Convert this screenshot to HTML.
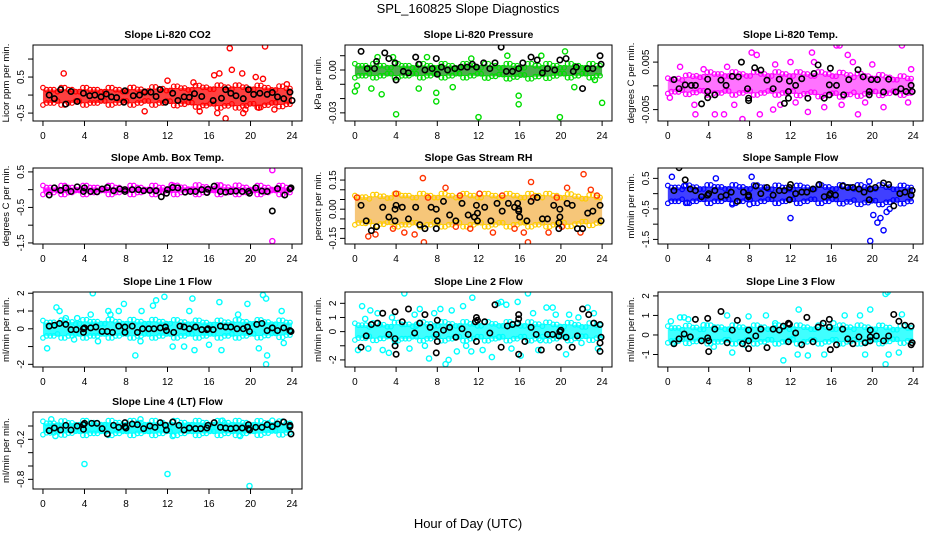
<!DOCTYPE html>
<html><head><meta charset="utf-8"><style>
body{margin:0;background:#fff;}
svg{display:block;font-family:"Liberation Sans",sans-serif;}
</style></head><body>
<svg id="chart" width="936" height="540" viewBox="0 0 936 540" xmlns="http://www.w3.org/2000/svg">
<text x="468" y="13" text-anchor="middle" font-size="13">SPL_160825  Slope Diagnostics</text>
<text x="468" y="528" text-anchor="middle" font-size="13">Hour of Day (UTC)</text>
</svg>
<script>
const NS="http://www.w3.org/2000/svg";
const svg=document.getElementById('chart');
const xTicks=[0,4,8,12,16,20,24];
const bandHours=[0,4,8,12,16,20,24];

// Panel 1: Li-820 CO2
const co2Ticks=[-0.5,0,0.5,1];
const co2Labels=["-0.5","","0.5",""];
const co2BandLo=[-0.22,-0.22,-0.22,-0.22,-0.3,-0.3,-0.25];
const co2BandHi=[0.15,0.15,0.15,0.18,0.22,0.22,0.18];
const co2Out=[[2,0.6],[9.8,-0.45],[16.5,0.55],[16.8,-0.5],[17.6,-0.65],[18,1.3],[18.2,0.7],[19.2,0.6],[19.3,-0.5],[15.1,-0.45],[20.5,0.5],[21.4,1.35],[22.3,-0.4],[21.2,0.45],[23.5,0.3],[14.5,0.35],[12,0.4],[17,0.6],[19.5,-0.4],[20.8,-0.35]];
const co2Black=[[0.6,0],[1.1,-0.1],[1.7,0.15],[2.2,-0.25],[2.7,0.1],[3.3,-0.18],[3.9,0.05],[4.5,-0.02],[5,0],[5.6,-0.05],[6.1,0.03],[6.6,-0.05],[7.1,-0.07],[7.8,-0.2],[7.9,0.12],[8.7,-0.02],[9.3,0],[9.8,0.08],[10.4,0.08],[10.9,-0.04],[11.3,0.15],[11.8,-0.2],[12.5,0.05],[13,-0.15],[13.6,-0.05],[14.1,-0.06],[14.6,0.04],[15.3,-0.04],[16.4,-0.15],[17.2,-0.09],[17.6,0.15],[18.1,0.05],[18.6,-0.02],[19.3,-0.1],[19.8,0.15],[20.3,0.02],[20.9,0.05],[21.6,0.02],[22.1,0.07],[22.6,-0.05],[23.2,-0.1],[23.8,0.08],[24,-0.15]];

// Panel 2: Li-820 Pressure
const presTicks=[-0.03,-0.02,-0.01,0,0.01];
const presLabels=["-0.03","","","0.00",""];
const presBandLo=[-0.004,-0.004,-0.004,-0.004,-0.005,-0.004,-0.004];
const presBandHi=[0.003,0.003,0.003,0.003,0.003,0.003,0.003];
const presOut=[[0,-0.015],[0.2,-0.011],[1.6,-0.013],[2.6,-0.017],[4,-0.031],[6.2,-0.013],[7.9,-0.016],[7.9,-0.022],[9.5,-0.012],[12,-0.033],[15.9,-0.018],[15.9,-0.024],[19.9,-0.033],[24,-0.023],[14.8,0.01],[18.1,0.01],[20.4,0.013],[7,0.009],[11.3,0.008],[21.3,-0.012],[23.3,-0.007],[2.2,0.009],[3.7,0.009]];
const presBlack=[[0.6,0.013],[1.2,0.001],[1.9,0.001],[2.1,0.006],[2.9,0.012],[3.3,0.008],[3.9,0.005],[4,-0.007],[4.7,-0.001],[5.2,-0.002],[5.9,0.009],[6.2,0.004],[6.8,0],[7.5,0.001],[7.9,0.008],[8,-0.003],[8.4,0.002],[9,0],[9.7,0.001],[10.3,0.002],[10.9,0.002],[11.4,0.004],[11.8,0.002],[12.5,0.005],[13.1,0.001],[13.6,0.005],[14.2,0.016],[14.7,-0.001],[15.3,-0.001],[15.9,0.001],[16.3,0.005],[17.1,0.009],[17.7,0.007],[18.2,-0.002],[18.7,0.001],[19.4,0],[19.9,0.007],[20.5,0.008],[21.2,-0.001],[21.5,0.002],[22.1,-0.013],[22.6,0.001],[23.1,0.001],[23.8,0.01],[23.9,0.004]];

// Panel 3: Li-820 Temp
const ltTicks=[-0.005,0,0.005];
const ltLabels=["-0.005","","0.005"];
const ltBandLo=[-0.0012,-0.0015,-0.0015,-0.0015,-0.002,-0.0016,-0.0015];
const ltBandHi=[0.0012,0.0025,0.0025,0.0025,0.0025,0.002,0.0015];
const ltOut=[[0.2,-0.0025],[2.6,-0.004],[2.7,-0.006],[4.6,-0.006],[5.5,-0.006],[7.3,-0.007],[8.2,0.007],[8.7,0.0065],[9,-0.006],[10.3,-0.005],[12,0.005],[13.7,-0.0055],[14.1,0.007],[14.3,0.005],[15.3,-0.0045],[16.5,0.0085],[16.8,0.0085],[17.6,0.0065],[18.1,0.005],[18.6,-0.006],[19.3,-0.0035],[21.1,-0.0045],[22.9,0.0085],[23.5,-0.0035],[23.8,0.0035],[5.8,0.004],[11,-0.004],[6.5,-0.004],[3.5,0.0035],[1.2,0.004],[12.5,-0.0035],[17,-0.004],[20,0.0045],[10.5,0.0045]];
const ltBlack=[[0.6,0.0013],[1.1,-0.0006],[1.7,0.0002],[2.3,0.0001],[2.7,0.0001],[3.3,-0.0038],[3.9,-0.0012],[3.9,0.0014],[3.9,-0.0025],[4.6,-0.0019],[5.2,0.0012],[5.7,0.0001],[6.3,0.002],[6.9,0.0019],[7.2,0.005],[7.8,-0.0006],[7.9,-0.0031],[7.9,-0.0026],[8.5,0.0038],[9.1,0.0033],[9.7,0.0012],[10.3,-0.0006],[10.9,0.0014],[11.4,-0.0037],[11.8,-0.0012],[11.8,-0.0026],[11.9,0.001],[12.5,0.0001],[13.1,0.0015],[13.7,-0.0026],[14.3,0.0026],[14.7,0.0044],[15.3,-0.0026],[15.9,0.0037],[15.8,0.0002],[15.8,-0.0019],[16.5,0.0001],[17.2,-0.0019],[17.7,0.0013],[18.6,0.0034],[19.1,0.0019],[19.7,-0.0012],[19.7,-0.0019],[19.9,0.0013],[20.5,0.0013],[21.1,-0.0013],[21.6,0.0014],[22.3,-0.0013],[22.8,-0.0006],[23.3,-0.0012],[23.8,0.0001],[23.9,-0.0012]];

// Panel 4: Amb. Box Temp
const abTicks=[-1.5,-1,-0.5,0,0.5];
const abLabels=["-1.5","","-0.5","","0.5"];
const abBandLo=[-0.08,-0.08,-0.08,-0.08,-0.08,-0.08,-0.08];
const abBandHi=[0.06,0.06,0.06,0.06,0.08,0.06,0.06];
const abOut=[[22.1,0.55],[22.1,-1.45],[17.1,0.12],[12.4,0.13]];
const abBlack=[[0.6,-0.15],[1.1,0.05],[1.7,-0.02],[2.2,0.05],[2.7,-0.05],[3.3,0.08],[3.9,-0.05],[4,0.05],[4.6,-0.05],[5.2,-0.06],[5.7,0.02],[6.2,0.06],[6.8,-0.03],[7.4,0.02],[7.9,-0.05],[7.9,0],[8.6,0],[9.2,0],[9.7,-0.03],[10.3,-0.02],[10.9,-0.03],[11.4,-0.2],[11.9,-0.1],[12,0],[12.5,0.06],[13,0.05],[13.7,-0.07],[14.2,-0.05],[14.7,-0.05],[15.3,0],[15.8,-0.08],[15.9,0.01],[16.5,0.1],[17.1,-0.05],[17.6,-0.07],[18.1,-0.05],[18.6,-0.04],[19.2,-0.05],[19.8,-0.05],[19.9,-0.1],[20.5,0.05],[21.1,-0.04],[21.6,-0.05],[22.1,-0.6],[22.6,0.03],[23.3,-0.15],[23.8,0.02],[23.9,0.05]];

// Panel 5: Gas Stream RH
const rhTicks=[-0.15,-0.1,-0.05,0,0.05,0.1,0.15];
const rhLabels=["-0.15","","","0.00","","","0.15"];
const rhBandLo=[-0.07,-0.08,-0.08,-0.08,-0.08,-0.08,-0.07];
const rhBandHi=[0.06,0.07,0.07,0.07,0.07,0.07,0.06];
const rhOut=[[0.2,0.06],[1.3,-0.14],[2,-0.13],[4,0.08],[4.8,-0.12],[5.8,-0.13],[6.6,0.16],[6.7,-0.17],[7.1,0.06],[8.8,0.11],[9.8,-0.09],[13.4,-0.12],[16.4,-0.12],[16.8,-0.17],[17.1,0.14],[17.3,0.06],[19.6,0.06],[20.1,-0.09],[20.6,0.11],[22.2,0.18],[22.9,0.1],[23.5,0.07],[10.2,0.07],[14.3,0.07],[3.7,-0.1],[11.2,-0.1],[12.1,0.08],[18.8,-0.12],[21.9,-0.12],[15.5,-0.1]];
const rhBlack=[[0.6,0.02],[1.1,-0.06],[1.6,-0.11],[2.1,-0.09],[2.7,0.01],[3.3,-0.04],[3.9,0],[3.9,-0.06],[4,0.02],[4.6,0.01],[5.2,-0.05],[5.9,0.01],[6.3,-0.08],[6.8,-0.1],[7.4,0.01],[7.9,-0.1],[7.9,0],[8,-0.06],[8.6,0.04],[9.2,-0.03],[9.8,-0.06],[10.4,0.03],[11,-0.03],[11.6,-0.04],[11.8,0.02],[11.9,-0.02],[11.9,-0.06],[12.6,0.01],[13.2,-0.06],[13.8,0.03],[14.3,-0.01],[14.9,0.03],[15.5,0.01],[15.8,0.03],[15.9,0],[15.9,-0.01],[16,-0.04],[16.7,-0.06],[17.1,0.04],[17.7,0.06],[18.2,-0.05],[18.7,-0.05],[19.3,0.02],[19.8,-0.07],[19.8,-0.1],[19.9,-0.04],[19.9,0],[20.6,0.03],[21.1,0.02],[21.6,-0.1],[22.1,-0.1],[22.6,-0.02],[23.1,-0.01],[23.8,0.02],[23.9,-0.06],[23.9,-0.2]];

// Panel 6: Sample Flow
const sfTicks=[-1.5,-1,-0.5,0,0.5];
const sfLabels=["-1.5","","-0.5","","0.5"];
const sfBandLo=[-0.25,-0.25,-0.25,-0.25,-0.25,-0.3,-0.25];
const sfBandHi=[0.2,0.22,0.22,0.2,0.22,0.22,0.2];
const sfOut=[[20.1,-0.7],[20.5,-0.95],[20.8,-0.8],[21.1,-1.2],[21.4,-0.6],[21.7,-0.5],[19.8,-1.55],[12,-0.8],[0.4,0.55],[4.7,0.5],[8.2,0.55],[19.7,0.4],[1.6,0.25],[1.9,-0.3],[6.3,-0.35],[8,-0.35]];
const sfBlack=[[0.6,0.1],[1.1,0.85],[1.7,0.45],[2.2,0.15],[2.7,0.1],[3.3,-0.1],[3.9,-0.05],[4,0],[4.6,0.1],[5.2,-0.1],[5.7,-0.05],[6.2,0.05],[6.8,-0.25],[7.4,0.05],[7.9,-0.05],[7.9,-0.1],[8.6,0.25],[9.1,0],[9.7,0.2],[10.3,-0.05],[10.9,0.1],[11.4,0.1],[11.9,0.2],[11.9,-0.2],[12,0.3],[12.5,0],[13.1,0.05],[13.6,0.05],[14.2,0.15],[14.8,0.3],[15.3,-0.1],[15.8,-0.05],[15.9,0],[16.4,-0.05],[17.1,0.25],[17.6,0.2],[18.1,0.2],[18.7,0.15],[19.2,0.05],[19.7,-0.2],[19.8,0.15],[20.3,0.2],[21.1,0.35],[21.6,0.3],[22.1,-0.4],[22.7,0],[23.2,0.05],[23.8,-0.05],[23.9,0.1]];

// Panel 7: Line 1 Flow
const l1Ticks=[-2,-1,0,1,2];
const l1Labels=["-2","","0","1","2"];
const l1BandLo=[-0.4,-0.4,-0.4,-0.4,-0.4,-0.4,-0.35];
const l1BandHi=[0.35,0.4,0.4,0.4,0.35,0.4,0.35];
const l1Out=[[0.4,-1.1],[1.3,1.2],[1.6,1],[3,-0.6],[3.3,0.6],[4.6,0.8],[4.8,2],[6.3,1],[6.5,0.8],[7.3,1],[7.8,1.4],[8.9,-1.5],[9.5,1],[10.6,1.3],[10.9,1.6],[11.7,1.8],[12.5,-1],[13.6,-1],[14.1,1],[14.4,1.7],[14.6,-1.2],[17,1.5],[17.2,-1.2],[19.7,1.4],[20.8,-1.1],[21.2,1.9],[21.5,1.7],[21.5,-2],[21.6,-1.5],[23,1],[23.2,-0.8],[9.4,-0.7],[5.3,-0.7],[16,-0.9],[2.2,0.6],[18.8,0.8]];
const l1Black=[[0.6,0.15],[1.1,0.2],[1.6,0.3],[2.2,0.25],[2.7,-0.05],[3.2,-0.05],[3.9,0],[3.9,-0.2],[4,0.05],[4.6,0.05],[5.1,0.1],[5.7,-0.15],[6.2,-0.15],[6.7,-0.2],[7.3,0.15],[7.9,0.1],[7.9,-0.2],[8.6,0.15],[9.1,-0.2],[9.6,0],[10.2,0],[10.7,0],[11.3,0.05],[11.8,0.1],[11.9,-0.1],[12.6,-0.2],[13.2,0.15],[13.6,0.1],[14.1,0],[14.7,0.1],[15.3,-0.05],[15.8,-0.05],[15.9,0],[16.4,-0.05],[17.1,0.15],[17.6,0.1],[18.1,0.1],[18.7,0],[19.3,0],[19.7,0.1],[19.9,-0.15],[20.6,0.25],[21.1,0.3],[21.6,-0.1],[22.1,0.05],[22.6,-0.1],[23.2,0.05],[23.8,-0.1],[23.9,-0.15]];

// Panel 8: Line 2 Flow
const l2Ticks=[-2,-1,0,1,2];
const l2Labels=["-2","","0","1","2"];
const l2BandLo=[-0.45,-0.5,-0.5,-0.5,-0.5,-0.5,-0.45];
const l2BandHi=[0.45,0.5,0.55,0.55,0.55,0.5,0.45];
const l2Out=[[0.3,-1.3],[0.7,1.8],[1.3,-1.2],[1.5,1.5],[2.2,1.3],[2.7,-1.3],[3.3,-1.5],[3.6,1],[4.8,2.7],[5.3,-1.2],[5.8,1.2],[6.3,1.6],[6.8,-1],[7.2,-1.9],[7.7,1.3],[8.3,1.6],[8.8,-2.3],[9.1,-2],[9.4,1.5],[9.9,-1.4],[10.5,1.8],[11.4,2.4],[11.3,-1.4],[12.4,-1.3],[13.3,-1.8],[13.9,2],[14.2,2.1],[14.7,1.9],[15.2,-1.2],[15.8,2.1],[16.1,-1.7],[16.8,2.7],[17.3,1.3],[17.8,-1.3],[18.6,1.7],[19.2,1.7],[20.5,-1.6],[20.8,1.2],[21.7,1],[22.6,1.7],[23.2,1.3],[23.6,-1.2],[3.9,-0.7],[10.8,-1],[18,-0.6],[22,-0.8],[6,0.5],[14,-0.4],[19.5,1.2],[1,0.9]];
const l2Black=[[0.6,-1.1],[1.1,-0.3],[1.6,0.5],[2.2,0.6],[2.7,1.3],[3.3,-0.2],[3.9,1.4],[3.9,-0.5],[3.9,-1],[4,-1.6],[4.6,0.7],[5.2,1.6],[5.8,-0.1],[6.3,0.6],[6.8,1.2],[7.3,0.3],[7.9,-0.2],[7.9,-1.5],[8,-0.7],[8,0.8],[8.6,0.1],[9.2,0.3],[9.8,-0.4],[10.4,0.2],[11,-0.2],[11.7,0.7],[11.8,1],[11.9,0.8],[11.8,-0.7],[12.6,0.7],[13.1,-0.1],[13.6,1.9],[14.2,-1.1],[14.8,0.4],[15.3,0.5],[15.8,0.6],[15.9,0.9],[15.9,1.2],[15.9,-1.6],[16.5,-0.7],[17.1,0.3],[17.6,-0.2],[18.1,-1.3],[18.7,-0.2],[19.2,-0.2],[19.8,-1.1],[19.8,-0.3],[19.9,0],[20,0.1],[20.5,-0.4],[21.1,-1.1],[21.6,-0.3],[22.1,1.6],[22.7,1.2],[23.2,0.6],[23.8,0.5],[23.9,-0.4],[23.8,-0.8],[23.8,-1.4]];

// Panel 9: Line 3 Flow
const l3Ticks=[-1,0,1,2];
const l3Labels=["-1","0","1","2"];
const l3BandLo=[-0.3,-0.35,-0.35,-0.35,-0.35,-0.35,-0.3];
const l3BandHi=[0.35,0.4,0.4,0.4,0.4,0.4,0.35];
const l3Out=[[0.3,0.7],[1.2,0.9],[1.6,0.9],[2,0.8],[3.5,0.5],[5.8,1],[6.3,-0.9],[7.6,-0.5],[7.9,0.95],[9.6,1],[11.3,-1.3],[12.2,-0.2],[12.7,-1],[12.8,1.3],[13.7,-1.05],[15.3,-1],[17.3,1],[18.8,1],[19.3,-1],[19.8,1.3],[21.3,2.1],[21.5,2.2],[21.3,-1.5],[21.6,-1],[22.6,-0.9],[22.9,1.05],[16.2,0.6],[10.5,0.6],[4.5,-0.6],[0.5,-0.4]];
const l3Black=[[0.6,-0.45],[1.1,-0.2],[1.6,0.05],[2.2,-0.1],[2.7,0.8],[3.3,-0.3],[3.9,0.85],[3.9,-0.15],[4,-0.3],[4,-0.85],[4.6,0.3],[5.2,1.2],[5.8,-0.4],[6.3,0.25],[6.8,0.75],[7.3,-0.45],[7.9,-0.7],[7.9,-0.3],[7.9,0.25],[8.6,-0.05],[9.1,0.3],[9.7,-0.65],[10.3,0.3],[10.9,0.25],[11.3,0.45],[11.8,0.6],[11.8,-0.35],[11.9,0.55],[12.5,0.1],[13.1,-0.5],[13.6,0.9],[14.2,-0.35],[14.7,0.4],[15.2,0.6],[15.8,0.4],[15.8,0.8],[15.9,-0.75],[16.5,-0.5],[17.1,0.3],[17.6,-0.2],[18.1,-0.45],[18.7,-0.1],[19.3,-0.4],[19.8,-0.3],[19.8,0.25],[19.8,-0.1],[20.4,-0.05],[21.1,-0.3],[21.6,-0.05],[22.1,1.05],[22.6,0.7],[23.2,0.5],[23.8,0.45],[23.8,-0.5],[23.9,-0.4]];

// Panel 10: Line 4 (LT) Flow
const l4Ticks=[-0.8,-0.6,-0.4,-0.2,0];
const l4Labels=["-0.8","","","-0.2",""];
const l4BandLo=[-0.1,-0.11,-0.11,-0.11,-0.11,-0.11,-0.1];
const l4BandHi=[0.04,0.05,0.05,0.05,0.05,0.05,0.04];
const l4Out=[[4,-0.57],[12,-0.72],[19.9,-0.9],[0.8,0.1],[9.4,0.1],[17.3,0.08],[22.1,0.08],[1.2,-0.15],[12.5,-0.15],[19,-0.15]];
const l4Black=[[0.6,-0.07],[1.1,-0.03],[1.7,-0.06],[2.2,0.01],[2.7,-0.06],[3.3,0],[3.9,-0.05],[3.9,0.02],[4,0.04],[4.7,0.04],[5.2,0.04],[5.7,-0.04],[6.2,-0.12],[6.8,0.01],[7.3,-0.02],[7.9,-0.01],[7.9,0.05],[8,-0.03],[8.6,0.03],[9.1,0.02],[9.7,-0.04],[10.3,0],[10.8,-0.02],[11.3,0.05],[11.8,0.01],[11.9,-0.06],[12.5,0.06],[13.1,0.01],[13.6,-0.06],[14.1,-0.03],[14.7,-0.04],[15.2,-0.04],[15.8,-0.03],[15.9,0.01],[16.5,0.05],[17.1,-0.02],[17.6,-0.03],[18.1,-0.04],[18.6,-0.03],[19.2,-0.03],[19.8,-0.04],[19.8,0.02],[19.9,-0.06],[20.5,-0.02],[21.1,-0.02],[21.6,0.02],[22.1,-0.01],[22.6,0.03],[23.2,0.06],[23.8,-0.01],[23.8,0.01],[23.9,-0.12]];

const cols=[[33,302],[345,612],[658,923]];
const rows=[[45,121],[168,244],[292,367],[412,489]];
const panels=[
 {name:'co2',title:'Slope Li-820 CO2',ylab:'Licor ppm per min.',c:0,r:0,ylim:[-0.72,1.39],ticks:co2Ticks,labels:co2Labels,lo:co2BandLo,hi:co2BandHi,out:co2Out,blk:co2Black,col:'#ff0000',op:0.75},
 {name:'pressure',title:'Slope Li-820 Pressure',ylab:'kPa per min.',c:1,r:0,ylim:[-0.0357,0.0175],ticks:presTicks,labels:presLabels,lo:presBandLo,hi:presBandHi,out:presOut,blk:presBlack,col:'#00dd00',fill:'#229922',op:0.8},
 {name:'licor-temp',title:'Slope Li-820 Temp.',ylab:'degrees C per min.',c:2,r:0,ylim:[-0.0074,0.0086],ticks:ltTicks,labels:ltLabels,lo:ltBandLo,hi:ltBandHi,out:ltOut,blk:ltBlack,col:'#ff00ff',op:0.55},
 {name:'amb-box-temp',title:'Slope Amb. Box Temp.',ylab:'degrees C per min.',c:0,r:1,ylim:[-1.53,0.61],ticks:abTicks,labels:abLabels,lo:abBandLo,hi:abBandHi,out:abOut,blk:abBlack,col:'#ff00ff',op:0.8},
 {name:'gas-rh',title:'Slope Gas Stream RH',ylab:'percent per min.',c:1,r:1,ylim:[-0.179,0.212],ticks:rhTicks,labels:rhLabels,lo:rhBandLo,hi:rhBandHi,out:rhOut,blk:rhBlack,col:'#ffcc00',fill:'#f0a020',op:0.6},
 {name:'sample-flow',title:'Slope Sample Flow',ylab:'ml/min per min.',c:2,r:1,ylim:[-1.65,0.84],ticks:sfTicks,labels:sfLabels,lo:sfBandLo,hi:sfBandHi,out:sfOut,blk:sfBlack,col:'#0000ff',op:0.75},
 {name:'line1-flow',title:'Slope Line 1 Flow',ylab:'ml/min per min.',c:0,r:2,ylim:[-2.15,2.07],ticks:l1Ticks,labels:l1Labels,lo:l1BandLo,hi:l1BandHi,out:l1Out,blk:l1Black,col:'#00ffff',op:0.8},
 {name:'line2-flow',title:'Slope Line 2 Flow',ylab:'ml/min per min.',c:1,r:2,ylim:[-2.5,2.8],ticks:l2Ticks,labels:l2Labels,lo:l2BandLo,hi:l2BandHi,out:l2Out,blk:l2Black,col:'#00ffff',op:0.75},
 {name:'line3-flow',title:'Slope Line 3 Flow',ylab:'ml/min per min.',c:2,r:2,ylim:[-1.64,2.2],ticks:l3Ticks,labels:l3Labels,lo:l3BandLo,hi:l3BandHi,out:l3Out,blk:l3Black,col:'#00ffff',op:0.75},
 {name:'line4-flow',title:'Slope Line 4 (LT) Flow',ylab:'ml/min per min.',c:0,r:3,ylim:[-0.945,0.21],ticks:l4Ticks,labels:l4Labels,lo:l4BandLo,hi:l4BandHi,out:l4Out,blk:l4Black,col:'#00ffff',op:0.85}
];
function mk(tag,attrs,parent){const e=document.createElementNS(NS,tag);for(const k in attrs)e.setAttribute(k,attrs[k]);(parent||svg).appendChild(e);return e;}
function interp(arr,h){for(let i=0;i<bandHours.length-1;i++){if(h<=bandHours[i+1]){const t=(h-bandHours[i])/(bandHours[i+1]-bandHours[i]);return arr[i]+t*(arr[i+1]-arr[i]);}}return arr[arr.length-1];}
panels.forEach(p=>{
  const [L,R]=cols[p.c],[T,B]=rows[p.r];
  const xs=v=>L+(v+0.96)/25.92*(R-L);
  const ys=v=>B-(v-p.ylim[0])/(p.ylim[1]-p.ylim[0])*(B-T);
  const g=mk('g',{});
  
  
  const cp=mk('clipPath',{id:'clip-'+p.name},g);mk('rect',{x:L,y:T,width:R-L,height:B-T},cp);
  const pg=mk('g',{'clip-path':'url(#clip-'+p.name+')'},g);
  let d='';
  for(let h=0;h<=24.001;h+=0.5)d+=(d?'L':'M')+xs(h)+','+ys(interp(p.hi,h));
  for(let h=24;h>=-0.001;h-=0.5)d+='L'+xs(h)+','+ys(interp(p.lo,h));
  const band=mk('path',{d:d+'Z',fill:p.fill||p.col,'fill-opacity':p.op,stroke:'none'},pg);
  
  
  for(let h=0;h<=24.001;h+=0.35){
    [p.hi,p.lo].forEach((a,k)=>{
      const c=mk('circle',{cx:xs(h),cy:ys(interp(a,h))+(k?-1:1)*((Math.round(h*10)%3)-1)*2,r:2.3,fill:'none',stroke:p.col,'stroke-width':1.2},pg);
      
      
    });
  }
  p.out.forEach(([h,v])=>{
    const c=mk('circle',{cx:xs(h),cy:ys(v),r:2.6,fill:'none',stroke:p.name==='gas-rh'?'#ff3300':p.col,'stroke-width':1.4},pg);
    
    
  });
  p.blk.forEach(([h,v])=>{
    const c=mk('circle',{cx:xs(h),cy:ys(v),r:2.7,fill:'none',stroke:'#000','stroke-width':1.6},pg);
    
    
  });
  const box=mk('rect',{x:L,y:T,width:R-L,height:B-T,fill:'none',stroke:'#000','stroke-width':1},g);
  
  
  xTicks.forEach(t=>{
    mk('line',{x1:xs(t),x2:xs(t),y1:B,y2:B+5,stroke:'#000'},g);
    const tx=mk('text',{x:xs(t),y:B+18,'text-anchor':'middle','font-size':10},g);
    tx.textContent=t;
    
    
  });
  p.ticks.forEach((t,i)=>{
    mk('line',{x1:L-5,x2:L,y1:ys(t),y2:ys(t),stroke:'#000'},g);
    if(p.labels[i]){
      const tx=mk('text',{x:L-9,y:ys(t),'text-anchor':'middle','font-size':10,transform:'rotate(-90 '+(L-9)+' '+ys(t)+')'},g);
      tx.textContent=p.labels[i];
      
      
    }
  });
  const yl=mk('text',{x:L-24,y:(T+B)/2,'text-anchor':'middle','font-size':9.5,transform:'rotate(-90 '+(L-24)+' '+((T+B)/2)+')'},g);
  yl.textContent=p.ylab;
  
  
  const ti=mk('text',{x:(L+R)/2,y:T-7,'text-anchor':'middle','font-size':10.5,'font-weight':'bold'},g);
  ti.textContent=p.title;
  
  
});
</script>
</body></html>
